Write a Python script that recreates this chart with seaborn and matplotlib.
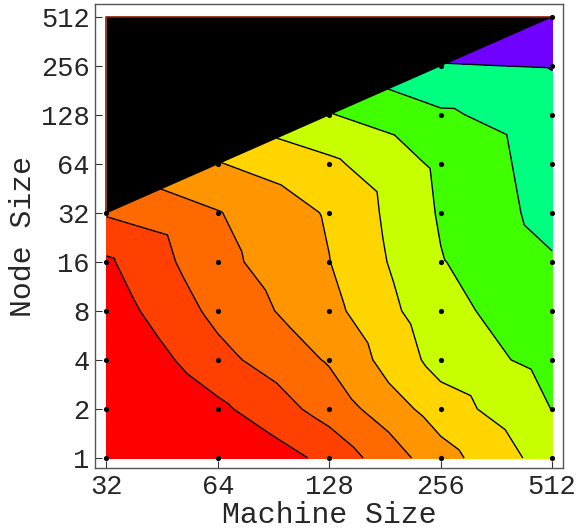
import numpy as np
import pandas as pd
import matplotlib
matplotlib.use("Agg")
import matplotlib.pyplot as plt
import matplotlib.tri as mtri
import seaborn as sns

# ---- data -------------------------------------------------------------
machine_sizes = [32, 64, 128, 256, 512]
node_sizes = [1, 2, 4, 8, 16, 32, 64, 128, 256, 512]

# values at each (machine, node) grid point, node size ascending;
# only node sizes <= machine size were measured
z_m32 = [-1.5, -0.8, -0.1, 0.45, 0.85, 2.1]
z_m64 = [-0.28, 0.77, 1.69, 2.27, 2.7, 2.95, 3.95]
z_m128 = [1.3, 2.4, 3.1, 3.7, 3.98, 4.1, 4.8, 5.95]
z_m256 = [3.6, 4.5, 5.4, 5.7, 5.95, 6.1, 6.2, 6.85, 7.95]
z_m512 = [5.5, 6.02, 6.35, 6.65, 6.9, 7.35, 7.45, 7.55, 8.05, 9.0]
z_columns = [z_m32, z_m64, z_m128, z_m256, z_m512]

contour_levels = [1, 2, 3, 4, 5, 6, 7, 8]
fill_colors = ["#ff0000", "#ff4000", "#ff6a00", "#ff9500", "#ffd500",
               "#c8ff00", "#40ff00", "#00ff80", "#7000ff"]

x_label = "Machine Size"
y_label = "Node Size"

# ---- build table ------------------------------------------------------
rows = []
index = {}
for i, (m, zc) in enumerate(zip(machine_sizes, z_columns)):
    for j, (n, z) in enumerate(zip(node_sizes, zc)):
        index[(i, j)] = len(rows)
        rows.append(dict(machine=m, node=n, value=z,
                         lx=np.log2(m), ly=np.log2(n)))
df = pd.DataFrame(rows)

triangles = []
for i in range(len(machine_sizes) - 1):
    for j in range(len(node_sizes) - 1):
        for t in (((i, j), (i + 1, j), (i + 1, j + 1)),
                  ((i, j), (i + 1, j + 1), (i, j + 1))):
            if all(k in index for k in t):
                triangles.append([index[k] for k in t])
tri = mtri.Triangulation(df["lx"].values, df["ly"].values, np.array(triangles))

# ---- plot -------------------------------------------------------------
sns.set_style("ticks")
plt.rcParams["font.family"] = ["Liberation Mono", "DejaVu Sans Mono"]

fig = plt.figure(figsize=(5.81, 5.29), dpi=100)
ax = fig.add_axes([0.164, 0.1147, 0.8055, 0.8777])

zmin, zmax = df["value"].min(), df["value"].max()
ax.tricontourf(tri, df["value"].values,
               levels=[zmin - 1] + contour_levels + [zmax + 1],
               colors=fill_colors, zorder=1)
ax.tricontour(tri, df["value"].values, levels=contour_levels,
              colors="black", linewidths=1.0, zorder=2)

# unmeasured region (node size > machine size)
lx_m = np.log2(machine_sizes)
ly_top = np.log2(max(node_sizes))
ax.fill_between(lx_m, lx_m, ly_top, color="black", lw=0, zorder=3)
ax.plot([lx_m[0], lx_m[0], lx_m[-1]], [lx_m[0], ly_top, ly_top],
        color="#8b1a00", lw=1.2, zorder=3)

sns.scatterplot(data=df, x="lx", y="ly", color="black", s=14,
                linewidth=0, zorder=4, ax=ax, legend=False)

ax.set_xlim(4.9, 9.1)
ax.set_ylim(-0.21, 9.255)
ax.set_xticks(np.log2(machine_sizes))
ax.set_xticklabels([str(m) for m in machine_sizes])
ax.set_yticks(np.log2(node_sizes))
ax.set_yticklabels([str(n) for n in node_sizes])
ax.tick_params(direction="in", length=5, width=0.8, labelsize=19.5,
               color="#333333", pad=4)
ax.set_xlabel(x_label, fontsize=21.5, labelpad=1)
ax.set_ylabel(y_label, fontsize=21.5, labelpad=3)
for s in ax.spines.values():
    s.set_color("#555555")
    s.set_linewidth(1.0)
ax.set_facecolor("white")

fig.savefig("out.png", dpi=100)
